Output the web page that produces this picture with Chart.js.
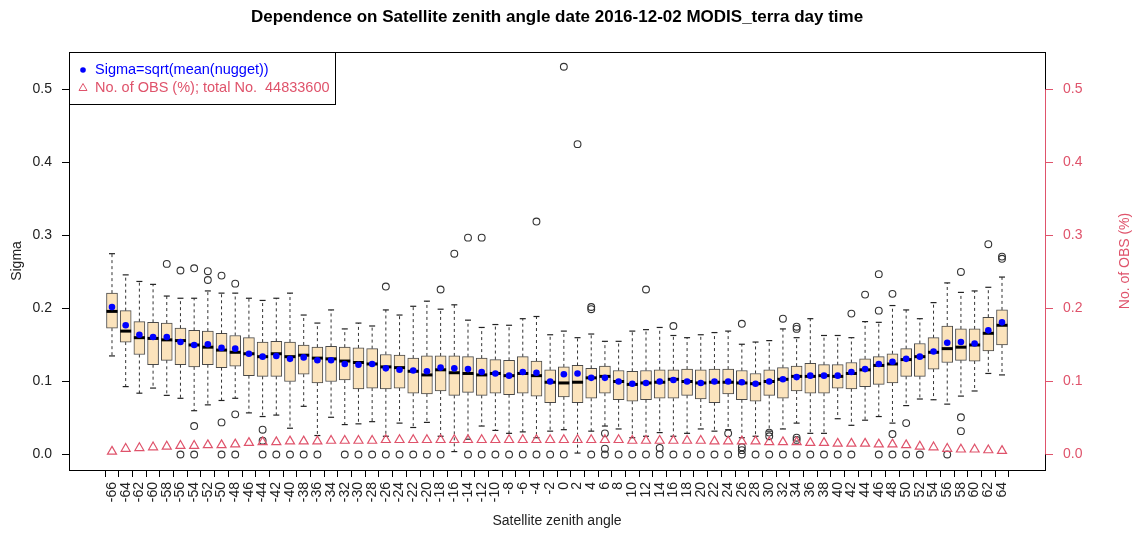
<!DOCTYPE html>
<html>
<head>
<meta charset="utf-8">
<title>Sigma vs satellite zenith angle</title>
<script src="https://cdn.jsdelivr.net/npm/chart.js@4.4.1/dist/chart.umd.min.js"></script>
<style>
    html, body { margin: 0; padding: 0; background: #fff; }
    canvas { display: block; }
</style>
</head>
<body>
<canvas id="chartSigma" width="1138" height="536"></canvas>
<script>
"use strict";

// categories (satellite zenith angle, deg)
const angles = [
    -66, -64, -62, -60, -58, -56, -54, -52, -50, -48, -46, -44, -42, -40,
    -38, -36, -34, -32, -30, -28, -26, -24, -22, -20, -18, -16, -14, -12,
    -10, -8, -6, -4, -2, 0, 2, 4, 6, 8, 10, 12, 14, 16, 18, 20, 22, 24, 26,
    28, 30, 32, 34, 36, 38, 40, 42, 44, 46, 48, 50, 52, 54, 56, 58, 60, 62, 64,
];

// box statistics
const whiskerLow = [
    0.135, 0.093, 0.084, 0.091, 0.081, 0.077, 0.060, 0.068, 0.074, 0.077, 0.057,
    0.052, 0.054, 0.036, 0.066, 0.026, 0.051, 0.041, 0.042, 0.045, 0.025, 0.043,
    0.037, 0.044, 0.025, 0.004, 0.021, 0.039, 0.033, 0.029, 0.031, 0.023, 0.032,
    0.034, 0.002, 0.032, 0.039, 0.035, 0.023, 0.025, 0.030, 0.025, 0.029, 0.035,
    0.032, 0.034, 0.023, 0.025, 0.032, 0.035, 0.043, 0.029, 0.029, 0.049, 0.040,
    0.047, 0.052, 0.043, 0.067, 0.076, 0.075, 0.069, 0.080, 0.087, 0.111, 0.109,
];
const q1 = [
    0.173, 0.154, 0.137, 0.123, 0.129, 0.123, 0.120, 0.123, 0.119, 0.121, 0.108,
    0.107, 0.107, 0.100, 0.110, 0.098, 0.100, 0.102, 0.090, 0.091, 0.090, 0.091,
    0.084, 0.083, 0.087, 0.081, 0.085, 0.081, 0.084, 0.082, 0.084, 0.080, 0.071,
    0.079, 0.071, 0.077, 0.084, 0.075, 0.073, 0.075, 0.077, 0.077, 0.081, 0.076,
    0.071, 0.083, 0.075, 0.073, 0.081, 0.077, 0.087, 0.084, 0.084, 0.091, 0.090,
    0.093, 0.096, 0.098, 0.107, 0.107, 0.117, 0.126, 0.129, 0.128, 0.142, 0.150,
];
const median = [
    0.196, 0.169, 0.160, 0.159, 0.157, 0.156, 0.150, 0.147, 0.143, 0.140, 0.138,
    0.134, 0.138, 0.134, 0.136, 0.132, 0.131, 0.128, 0.126, 0.124, 0.120, 0.119,
    0.114, 0.109, 0.116, 0.112, 0.111, 0.109, 0.111, 0.108, 0.111, 0.108, 0.099,
    0.098, 0.099, 0.105, 0.107, 0.100, 0.096, 0.098, 0.099, 0.103, 0.100, 0.098,
    0.099, 0.099, 0.098, 0.097, 0.100, 0.103, 0.107, 0.107, 0.108, 0.107, 0.111,
    0.116, 0.122, 0.124, 0.130, 0.134, 0.140, 0.145, 0.147, 0.150, 0.166, 0.177,
];
const q3 = [
    0.221, 0.197, 0.182, 0.181, 0.180, 0.173, 0.170, 0.169, 0.166, 0.163, 0.160,
    0.154, 0.155, 0.154, 0.150, 0.147, 0.148, 0.147, 0.146, 0.145, 0.137, 0.136,
    0.132, 0.135, 0.135, 0.135, 0.134, 0.132, 0.130, 0.129, 0.134, 0.128, 0.116,
    0.120, 0.122, 0.118, 0.121, 0.115, 0.114, 0.115, 0.116, 0.116, 0.117, 0.116,
    0.117, 0.117, 0.115, 0.111, 0.116, 0.119, 0.121, 0.125, 0.123, 0.123, 0.126,
    0.131, 0.134, 0.138, 0.145, 0.152, 0.160, 0.176, 0.172, 0.172, 0.188, 0.198,
];
const whiskerHigh = [
    0.275, 0.246, 0.237, 0.233, 0.217, 0.214, 0.214, 0.224, 0.221, 0.221, 0.214,
    0.211, 0.214, 0.221, 0.191, 0.180, 0.198, 0.172, 0.180, 0.176, 0.198, 0.191,
    0.203, 0.210, 0.199, 0.205, 0.184, 0.174, 0.178, 0.177, 0.186, 0.189, 0.164,
    0.169, 0.160, 0.165, 0.155, 0.155, 0.169, 0.171, 0.174, 0.163, 0.160, 0.164,
    0.167, 0.169, 0.151, 0.154, 0.156, 0.172, 0.160, 0.186, 0.163, 0.163, 0.160,
    0.182, 0.181, 0.204, 0.198, 0.186, 0.208, 0.235, 0.222, 0.224, 0.229, 0.243,
];

// Sigma = sqrt(mean(nugget)) and share of observations (%)
const sigma = [
    0.202, 0.177, 0.164, 0.161, 0.161, 0.154, 0.150, 0.151, 0.146, 0.145, 0.138,
    0.134, 0.135, 0.131, 0.133, 0.129, 0.129, 0.124, 0.123, 0.124, 0.118, 0.116,
    0.115, 0.114, 0.119, 0.118, 0.117, 0.113, 0.111, 0.108, 0.113, 0.112, 0.100,
    0.110, 0.111, 0.105, 0.105, 0.100, 0.097, 0.098, 0.100, 0.102, 0.100, 0.098,
    0.100, 0.100, 0.099, 0.097, 0.100, 0.103, 0.106, 0.108, 0.108, 0.108, 0.113,
    0.117, 0.124, 0.127, 0.131, 0.134, 0.141, 0.153, 0.154, 0.152, 0.170, 0.181,
];
const obsPercent = [
    0.004, 0.008, 0.009, 0.010, 0.011, 0.012, 0.012, 0.013, 0.013, 0.014, 0.016,
    0.017, 0.017, 0.018, 0.018, 0.018, 0.019, 0.019, 0.019, 0.019, 0.020, 0.020,
    0.020, 0.020, 0.020, 0.020, 0.020, 0.020, 0.020, 0.020, 0.020, 0.020, 0.020,
    0.020, 0.020, 0.020, 0.020, 0.020, 0.019, 0.019, 0.019, 0.019, 0.019, 0.019,
    0.018, 0.018, 0.018, 0.018, 0.017, 0.017, 0.017, 0.016, 0.016, 0.015, 0.015,
    0.015, 0.014, 0.014, 0.013, 0.011, 0.010, 0.008, 0.007, 0.007, 0.006, 0.005,
];

// outliers
const outlierAngles = [
    -58, -56, -54, -52, -52, -50, -48, -26, -18, -16, -14, -12, -4, 0, 2, 4, 4,
    12, 16, 26, 32, 34, 34, 42, 44, 46, 46, 48, 58, 62, 64, 64,
    -54, -50, -48, -44, -44, 6, 6, 14, 24, 26, 26, 30, 30, 34, 34, 48, 50, 58, 58,
];
const outlierValues = [
    0.261, 0.252, 0.255, 0.251, 0.239, 0.245, 0.234, 0.230, 0.226, 0.275, 0.297,
    0.297, 0.319, 0.531, 0.425, 0.199, 0.202, 0.226, 0.176, 0.179, 0.186, 0.172,
    0.175, 0.193, 0.219, 0.247, 0.197, 0.220, 0.250, 0.288, 0.268, 0.271,
    0.039, 0.044, 0.055, 0.034, 0.019, 0.029, 0.008, 0.009, 0.029, 0.010, 0.006,
    0.030, 0.025, 0.023, 0.020, 0.028, 0.043, 0.051, 0.032,
];
// angles that have an outlier sitting at sigma = 0
const zeroOutlierAngles = [
    -56, -54, -50, -48, -44, -42, -40, -38, -36, -32, -30, -28, -26, -24, -22,
    -20, -18, -14, -12, -10, -8, -6, -4, -2, 0, 4, 6, 8, 10, 12, 14, 16, 18, 20,
    22, 24, 26, 28, 30, 32, 34, 36, 38, 40, 42, 46, 48, 50, 52, 56,
];

const sigmaTicks = [0, 0.1, 0.2, 0.3, 0.4, 0.5];
const totalObs = 44833600;

const sigmaColor = "#0000FF";
const obsColor = "#DF536B";
const fontFamily = "'Liberation Sans', Arial, Helvetica, sans-serif";
Chart.defaults.font.family = fontFamily;

// data points for the library
const boxData = angles.map((a, i) => ({ x: a, y: [q1[i], q3[i]] }));
const medianData = angles.map((a, i) => ({ x: a, y: median[i] }));
const whiskerData = [];
angles.forEach((a, i) => {
    whiskerData.push(
        { x: a, y: q3[i] }, { x: a, y: whiskerHigh[i] }, { x: a, y: null },
        { x: a, y: q1[i] }, { x: a, y: whiskerLow[i] }, { x: a, y: null }
    );
});
const capData = angles.flatMap((a, i) => [
    { x: a, y: whiskerHigh[i] },
    { x: a, y: whiskerLow[i] },
]);
const outlierData = outlierAngles
    .map((a, i) => ({ x: a, y: outlierValues[i] }))
    .concat(zeroOutlierAngles.map((a) => ({ x: a, y: 0 })));
const sigmaData = angles.map((a, i) => ({ x: a, y: sigma[i] }));
const obsData = angles.map((a, i) => ({ x: a, y: obsPercent[i] }));

// plot frame, red right axis line, right axis title and legend
const framePlugin = {
    id: "frame",
    afterDraw(chart) {
        const { ctx, chartArea: a, scales } = chart;
        ctx.save();
        ctx.strokeStyle = "#000";
        ctx.lineWidth = 1;
        ctx.strokeRect(a.left + 0.5, a.top + 0.5, a.right - a.left, a.bottom - a.top);

        ctx.strokeStyle = obsColor;
        ctx.beginPath();
        ctx.moveTo(a.right + 0.5, scales.y2.getPixelForValue(sigmaTicks[0]));
        ctx.lineTo(a.right + 0.5, scales.y2.getPixelForValue(sigmaTicks[sigmaTicks.length - 1]));
        ctx.stroke();

        ctx.font = "14px " + fontFamily;
        ctx.fillStyle = obsColor;
        ctx.textAlign = "center";
        ctx.textBaseline = "middle";
        ctx.save();
        ctx.translate(1125, (a.top + a.bottom) / 2);
        ctx.rotate(-Math.PI / 2);
        ctx.fillText("No. of OBS (%)", 0, 0);
        ctx.restore();

        // legend
        const lx = a.left, ly = a.top;
        ctx.font = "14.5px " + fontFamily;
        ctx.strokeStyle = "#000";
        ctx.strokeRect(lx + 0.5, ly + 0.5, 266, 52);
        ctx.textAlign = "left";
        ctx.fillStyle = sigmaColor;
        ctx.beginPath();
        ctx.arc(lx + 14, ly + 18, 2.8, 0, Math.PI * 2);
        ctx.fill();
        ctx.fillText("Sigma=sqrt(mean(nugget))", lx + 26, ly + 18);

        ctx.strokeStyle = obsColor;
        ctx.fillStyle = obsColor;
        ctx.beginPath();
        ctx.moveTo(lx + 14, ly + 31.5);
        ctx.lineTo(lx + 18, ly + 38.5);
        ctx.lineTo(lx + 10, ly + 38.5);
        ctx.closePath();
        ctx.stroke();
        ctx.fillText("No. of OBS (%); total No.  " + totalObs, lx + 26, ly + 36);
        ctx.restore();
    },
};

const pointSet = (extra) => Object.assign({ type: "line", showLine: false }, extra);

const ctx = document.getElementById("chartSigma").getContext("2d");
const chartSigma = new Chart(ctx, {
    type: "bar",
    data: {
        datasets: [
            pointSet({
                label: "No. of OBS (%)",
                data: obsData,
                yAxisID: "y2",
                order: 0,
                pointStyle: "triangle",
                pointRadius: 5.2,
                pointHoverRadius: 5.2,
                pointBorderWidth: 1.2,
                pointBorderColor: obsColor,
                pointBackgroundColor: "rgba(0,0,0,0)",
            }),
            pointSet({
                label: "Sigma",
                data: sigmaData,
                order: 1,
                pointStyle: "circle",
                pointRadius: 3.3,
                pointHoverRadius: 3.3,
                pointBorderWidth: 0,
                pointBackgroundColor: sigmaColor,
                pointBorderColor: sigmaColor,
            }),
            pointSet({
                label: "median",
                data: medianData,
                order: 2,
                pointStyle: "line",
                pointRadius: 5.5,
                pointHoverRadius: 5.5,
                pointBorderWidth: 3,
                pointBorderColor: "#000",
            }),
            pointSet({
                label: "outliers",
                data: outlierData,
                order: 3,
                pointStyle: "circle",
                pointRadius: 3.4,
                pointHoverRadius: 3.4,
                pointBorderWidth: 1.1,
                pointBorderColor: "#333",
                pointBackgroundColor: "rgba(0,0,0,0)",
            }),
            pointSet({
                label: "caps",
                data: capData,
                order: 4,
                pointStyle: "line",
                pointRadius: 3,
                pointHoverRadius: 3,
                pointBorderWidth: 1.2,
                pointBorderColor: "#222",
            }),
            {
                type: "line",
                label: "whiskers",
                data: whiskerData,
                order: 5,
                borderColor: "#333",
                borderWidth: 1,
                borderDash: [3, 3],
                pointRadius: 0,
                spanGaps: false,
            },
            {
                type: "bar",
                label: "boxes",
                data: boxData,
                order: 6,
                barThickness: 11,
                backgroundColor: "#FBE3BC",
                borderColor: "#4a4a4a",
                borderWidth: 1,
                borderSkipped: false,
            },
        ],
    },
    options: {
        responsive: false,
        animation: false,
        events: [],
        layout: { padding: 0 },
        plugins: {
            legend: { display: false },
            tooltip: { enabled: false },
            title: {
                display: true,
                fullSize: false,
                text: "Dependence on Satellite zenith angle date 2016-12-02 MODIS_terra day time",
                color: "#000",
                font: { size: 17, weight: "bold" },
                padding: { top: 7, bottom: 24.6 },
            },
        },
        scales: {
            x: {
                type: "linear",
                offset: false,
                min: -72.28,
                max: 70.28,
                afterBuildTicks: (scale) => {
                    scale.ticks = angles.map((v) => ({ value: v }));
                },
                afterFit: (scale) => {
                    scale.height = 66;
                },
                grid: {
                    drawOnChartArea: false,
                    drawTicks: true,
                    tickLength: 7,
                    color: "#000",
                },
                border: { display: false },
                ticks: {
                    autoSkip: false,
                    minRotation: 90,
                    maxRotation: 90,
                    padding: 5,
                    color: "#222",
                    font: { size: 14 },
                    callback: (v) => String(v),
                },
                title: {
                    display: true,
                    text: "Satellite zenith angle",
                    color: "#222",
                    font: { size: 14 },
                    padding: { top: 0, bottom: 6 },
                },
            },
            y: {
                position: "left",
                min: -0.0212,
                max: 0.5512,
                afterBuildTicks: (scale) => {
                    scale.ticks = sigmaTicks.map((v) => ({ value: v }));
                },
                afterFit: (scale) => {
                    scale.width = 69;
                },
                grid: {
                    drawOnChartArea: false,
                    drawTicks: true,
                    tickLength: 7,
                    color: "#000",
                },
                border: { display: false },
                ticks: {
                    padding: 10,
                    color: "#222",
                    font: { size: 14 },
                    callback: (v) => v.toFixed(1),
                },
                title: {
                    display: true,
                    text: "Sigma",
                    color: "#222",
                    font: { size: 14 },
                    padding: { top: 9, bottom: 0 },
                },
            },
            y2: {
                position: "right",
                min: -0.0212,
                max: 0.5512,
                afterBuildTicks: (scale) => {
                    scale.ticks = sigmaTicks.map((v) => ({ value: v }));
                },
                afterFit: (scale) => {
                    scale.width = 93;
                },
                grid: {
                    drawOnChartArea: false,
                    drawTicks: true,
                    tickLength: 8,
                    color: obsColor,
                },
                border: { display: false },
                ticks: {
                    padding: 10,
                    color: obsColor,
                    font: { size: 14 },
                    callback: (v) => v.toFixed(1),
                },
            },
        },
    },
    plugins: [framePlugin],
});
</script>
</body>
</html>
